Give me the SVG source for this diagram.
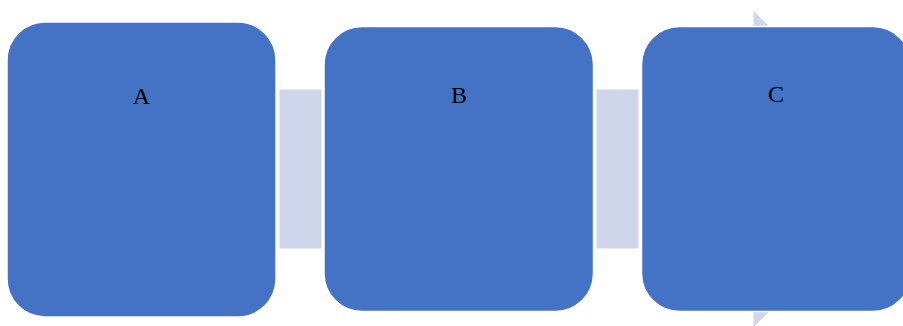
<svg xmlns="http://www.w3.org/2000/svg" width="903" height="326" viewBox="0 0 903 326">
  <style>
    .shaft { fill: #CFD5EA; stroke: #FFFFFF; stroke-width: 1; }
    .box { fill: #4472C4; stroke: #FFFFFF; stroke-width: 1.5; }
    .label { font-family: "Liberation Serif", "Times New Roman", serif; font-size: 24px; fill: #000000; text-anchor: middle; }
  </style>
  <rect width="903" height="326" fill="#FFFFFF"/>

  <!-- process arrow: shafts between steps and the head behind the last step -->
  <g id="connectors">
    <rect class="shaft" x="279" y="89" width="43" height="160"/>
    <rect class="shaft" x="596" y="89" width="43" height="160"/>
    <polygon class="shaft" points="753,10 912,169 753,328"/>
  </g>

  <g id="node-a">
    <rect class="box" x="7" y="22" width="269" height="295" rx="38" ry="38"/>
    <text class="label" x="141.5" y="104">A</text>
  </g>

  <g id="node-b">
    <rect class="box" x="324" y="26.5" width="269.5" height="285" rx="38" ry="38"/>
    <text class="label" x="459" y="102.7">B</text>
  </g>

  <g id="node-c">
    <rect class="box" x="641.5" y="26.5" width="269.5" height="285" rx="38" ry="38"/>
    <text class="label" x="776" y="101.7">C</text>
  </g>
</svg>
